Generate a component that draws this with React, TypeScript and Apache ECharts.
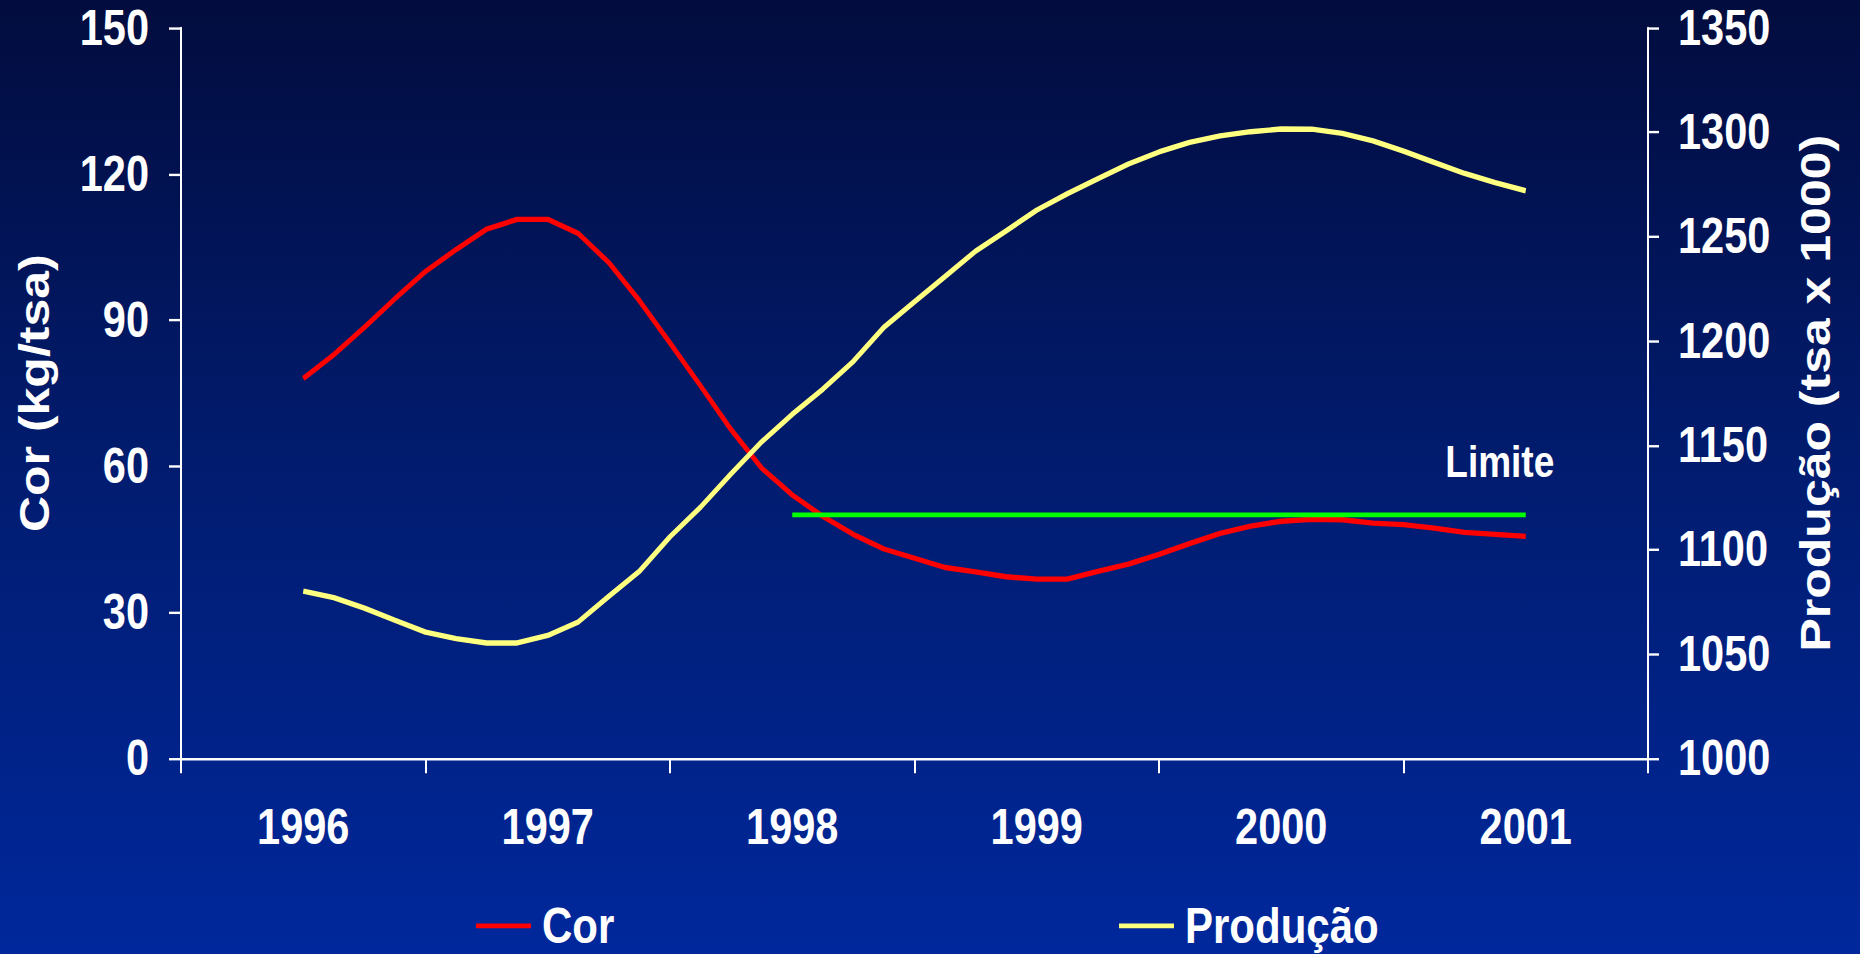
import React, { useEffect, useRef } from "react";
import * as echarts from "echarts";

// Category tick labels (years)
const years = ["1996", "1997", "1998", "1999", "2000", "2001"];

// Sampling: 8 readings per year, from 1996.0 to 2001.0
const startYear = 1996;
const samplesPerYear = 8;

// Cor (kg/tsa) – left axis
const corValues = [
  78.0, 82.9, 88.5, 94.4, 100.0, 104.5, 108.7, 110.7, 110.7,
  107.8, 101.8, 94.0, 85.3, 76.5, 67.5, 59.6, 54.1,
  49.7, 46.0, 43.0, 41.1, 39.2, 38.3, 37.3, 36.8,
  36.8, 38.4, 39.9, 41.9, 44.1, 46.2, 47.7, 48.7,
  49.1, 49.0, 48.3, 48.0, 47.3, 46.4, 46.0, 45.6,
];

// Produção (tsa x 1000) – right axis
const producaoValues = [
  1080.2, 1077.0, 1072.0, 1066.2, 1060.5, 1057.4, 1055.3, 1055.3, 1058.9,
  1065.4, 1077.7, 1089.7, 1106.2, 1120.4, 1136.4, 1151.7, 1164.9,
  1176.9, 1190.3, 1206.6, 1218.8, 1230.9, 1243.1, 1252.8, 1262.7,
  1270.6, 1277.8, 1284.8, 1290.6, 1295.2, 1298.3, 1300.3, 1301.6,
  1301.5, 1299.5, 1295.9, 1291.0, 1285.6, 1280.3, 1275.9, 1272.0,
];

// Limite line
const limiteStart = 1998;
const limiteEnd = 2001;
const limiteValue = 50;

// The original slide is stretched vertically; reproduce it with a CSS scaleY.
const STRETCH = 1.19;
const PAGE_W = 1860;
const PAGE_H = 954;
const INNER_H = PAGE_H / STRETCH;

const FONT = '"Liberation Sans", Arial, Helvetica, sans-serif';

export default function App() {
  const ref = useRef<HTMLDivElement>(null);

  useEffect(() => {
    if (!ref.current) return;
    const chart = echarts.init(ref.current, undefined, { renderer: "svg" });

    const toPairs = (vals: number[]) =>
      vals.map((v, i) => [startYear + i / samplesPerYear, v]);

    const axisLineStyle = { color: "#ffffff", width: 2 };
    const gridTop = 28 / STRETCH;
    const gridBottom = INNER_H - 758 / STRETCH;

    const legendText = {
      color: "#ffffff",
      fontFamily: FONT,
      fontWeight: "bold",
      fontSize: 42,
      lineHeight: 38,
      padding: [0, 0, 0, 6],
    };

    const option: any = {
      animation: false,
      backgroundColor: {
        type: "linear",
        x: 0,
        y: 0,
        x2: 0,
        y2: 1,
        colorStops: [
          { offset: 0, color: "#020c3e" },
          { offset: 0.5, color: "#011c70" },
          { offset: 1, color: "#00289c" },
        ],
      },
      grid: { left: 181, right: 212, top: gridTop, bottom: gridBottom, containLabel: false },
      legend: [
        {
          data: ["Cor"],
          left: 476,
          top: 757,
          itemWidth: 55,
          itemHeight: 4,
          icon: "rect",
          padding: 0,
          textStyle: legendText,
        },
        {
          data: ["Produção"],
          left: 1119,
          top: 757,
          itemWidth: 55,
          itemHeight: 4,
          icon: "rect",
          padding: 0,
          textStyle: legendText,
        },
      ],
      xAxis: [
        {
          type: "category",
          data: years,
          boundaryGap: true,
          axisLine: { show: true, onZero: false, lineStyle: axisLineStyle },
          axisTick: { show: true, length: 12.6, interval: 0, lineStyle: { color: "#ffffff", width: 2 } },
          axisLabel: {
            color: "#ffffff",
            fontFamily: FONT,
            fontWeight: "bold",
            fontSize: 41.5,
            margin: 37,
            interval: 0,
          },
          splitLine: { show: false },
        },
        {
          type: "value",
          min: startYear - 0.5,
          max: startYear + years.length - 0.5,
          show: false,
          splitLine: { show: false },
        },
      ],
      yAxis: [
        {
          type: "value",
          position: "left",
          min: 0,
          max: 150,
          interval: 30,
          name: "Cor (kg/tsa)",
          nameLocation: "middle",
          nameRotate: 90,
          nameGap: 126,
          nameTextStyle: {
            color: "#ffffff",
            fontFamily: FONT,
            fontWeight: "bold",
            fontSize: 42,
          },
          axisLine: { show: true, lineStyle: axisLineStyle },
          axisTick: { show: true, length: 12, lineStyle: { color: "#ffffff", width: 2 } },
          axisLabel: {
            color: "#ffffff",
            fontFamily: FONT,
            fontWeight: "bold",
            fontSize: 41.5,
            margin: 32,
          },
          splitLine: { show: false },
        },
        {
          type: "value",
          position: "right",
          min: 1000,
          max: 1350,
          interval: 50,
          name: "Produção (tsa x 1000)",
          nameLocation: "middle",
          nameRotate: 90,
          nameGap: 146,
          nameTextStyle: {
            color: "#ffffff",
            fontFamily: FONT,
            fontWeight: "bold",
            fontSize: 42,
          },
          axisLine: { show: true, lineStyle: axisLineStyle },
          axisTick: { show: true, length: 11, lineStyle: { color: "#ffffff", width: 2 } },
          axisLabel: {
            color: "#ffffff",
            fontFamily: FONT,
            fontWeight: "bold",
            fontSize: 41.5,
            margin: 30,
            formatter: (v: number) => String(v),
          },
          splitLine: { show: false },
        },
      ],
      series: [
        {
          name: "Cor",
          type: "line",
          xAxisIndex: 1,
          yAxisIndex: 0,
          data: toPairs(corValues),
          showSymbol: false,
          symbol: "none",
          color: "#ff0000",
          lineStyle: { color: "#ff0000", width: 4.5 },
          z: 2,
        },
        {
          name: "Produção",
          type: "line",
          xAxisIndex: 1,
          yAxisIndex: 1,
          data: toPairs(producaoValues),
          showSymbol: false,
          symbol: "none",
          color: "#ffff80",
          lineStyle: { color: "#ffff80", width: 4.5 },
          z: 3,
        },
        {
          name: "Limite",
          type: "line",
          xAxisIndex: 1,
          yAxisIndex: 0,
          data: [
            [limiteStart, limiteValue],
            [limiteEnd, limiteValue],
          ],
          showSymbol: false,
          symbol: "none",
          color: "#00ff00",
          lineStyle: { color: "#00ff00", width: 4 },
          z: 4,
          markPoint: {
            symbol: "circle",
            symbolSize: 0,
            silent: true,
            data: [
              {
                coord: [limiteEnd, limiteValue],
                label: {
                  show: true,
                  formatter: "Limite",
                  position: "top",
                  distance: 26,
                  offset: [-26, 0],
                  color: "#ffffff",
                  fontFamily: FONT,
                  fontWeight: "bold",
                  fontSize: 37,
                },
              },
            ],
          },
        },
      ],
    };

    chart.setOption(option);
    return () => chart.dispose();
  }, []);

  return (
    <div
      style={{
        position: "fixed",
        left: 0,
        top: 0,
        width: PAGE_W + "px",
        height: PAGE_H + "px",
        overflow: "hidden",
      }}
    >
      <div
        ref={ref}
        style={{
          width: PAGE_W + "px",
          height: INNER_H + "px",
          transform: `scaleY(${STRETCH})`,
          transformOrigin: "0 0",
        }}
      />
    </div>
  );
}
